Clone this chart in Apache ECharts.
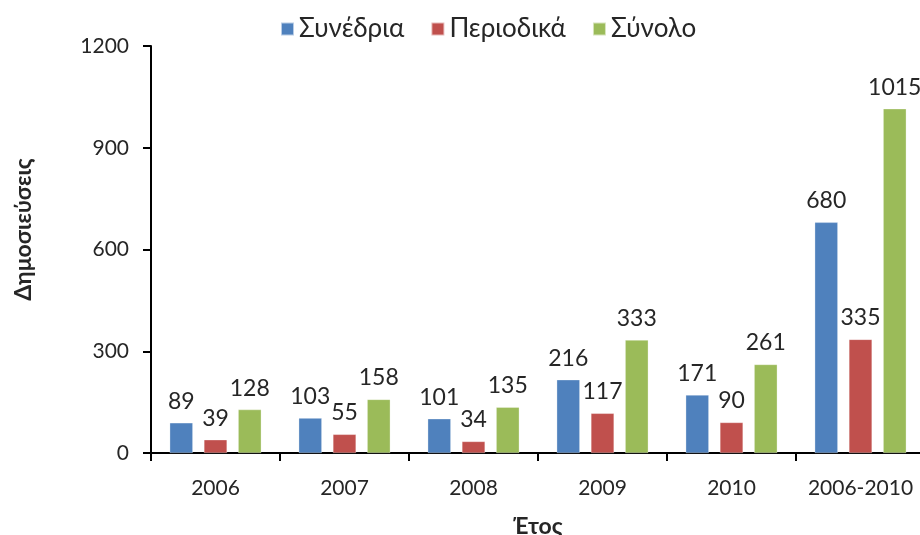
<!DOCTYPE html>
<html>
<head>
<meta charset="utf-8">
<script src="https://cdn.jsdelivr.net/npm/echarts@6/dist/echarts.min.js"></script>
<style>
  html, body { margin: 0; padding: 0; background: #fff; }
  #chart { width: 920px; height: 535px; }
</style>
</head>
<body>
<div id="chart"></div>
<script>
const years = ["2006", "2007", "2008", "2009", "2010", "2006-2010"];
const synedria = [89, 103, 101, 216, 171, 680];
const periodika = [39, 55, 34, 117, 90, 335];
const synolo = [128, 158, 135, 333, 261, 1015];

const font = "Lato, 'Open Sans', sans-serif";
const textColor = "#262626";

const chart = echarts.init(document.getElementById("chart"));

const makeSeries = (name, data, color) => ({
  name: name,
  type: "bar",
  data: data,
  barGap: "48%",
  barCategoryGap: "29%",
  itemStyle: { color: color, borderColor: "rgba(255,255,255,0.6)", borderWidth: 0.5 },
  label: {
    show: true,
    position: "top",
    distance: 10,
    fontFamily: font,
    fontSize: 23,
    color: textColor,
  },
  animation: false,
});

chart.setOption({
  textStyle: { fontFamily: font },
  legend: {
    top: 11,
    left: 275,
    itemWidth: 13,
    itemHeight: 13,
    itemGap: 26,
    icon: "rect",
    textStyle: { fontSize: 26, color: textColor, fontFamily: font },
    data: ["Συνέδρια", "Περιοδικά", "Σύνολο"],
  },
  grid: { left: 151, top: 46, bottom: 82, width: 774, containLabel: false, outerBoundsMode: "none" },
  xAxis: {
    type: "category",
    data: years,
    name: "Έτος",
    nameLocation: "middle",
    nameGap: 62,
    nameTextStyle: { fontSize: 23, fontWeight: "bold", color: textColor, fontFamily: font },
    axisLine: { lineStyle: { color: "#000", width: 2 } },
    axisTick: { show: true, length: 8, lineStyle: { color: "#000", width: 2 } },
    axisLabel: { interval: 0, fontSize: 21, color: textColor, margin: 25, fontFamily: font },
  },
  yAxis: {
    type: "value",
    min: 0,
    max: 1200,
    interval: 300,
    name: "Δημοσιεύσεις",
    nameLocation: "middle",
    nameGap: 116,
    nameTextStyle: { fontSize: 23, fontWeight: "bold", color: textColor, fontFamily: font, padding: [0, 0, 0, 40] },
    axisLine: { show: true, lineStyle: { color: "#000", width: 2 } },
    axisTick: { show: true, length: 8, lineStyle: { color: "#000", width: 2 } },
    axisLabel: { fontSize: 21, color: textColor, margin: 22, fontFamily: font, formatter: (v) => String(v) },
    splitLine: { show: false },
  },
  series: [
    makeSeries("Συνέδρια", synedria, "#4F81BD"),
    makeSeries("Περιοδικά", periodika, "#C0504D"),
    makeSeries("Σύνολο", synolo, "#9BBB59"),
  ],
});
</script>
</body>
</html>
